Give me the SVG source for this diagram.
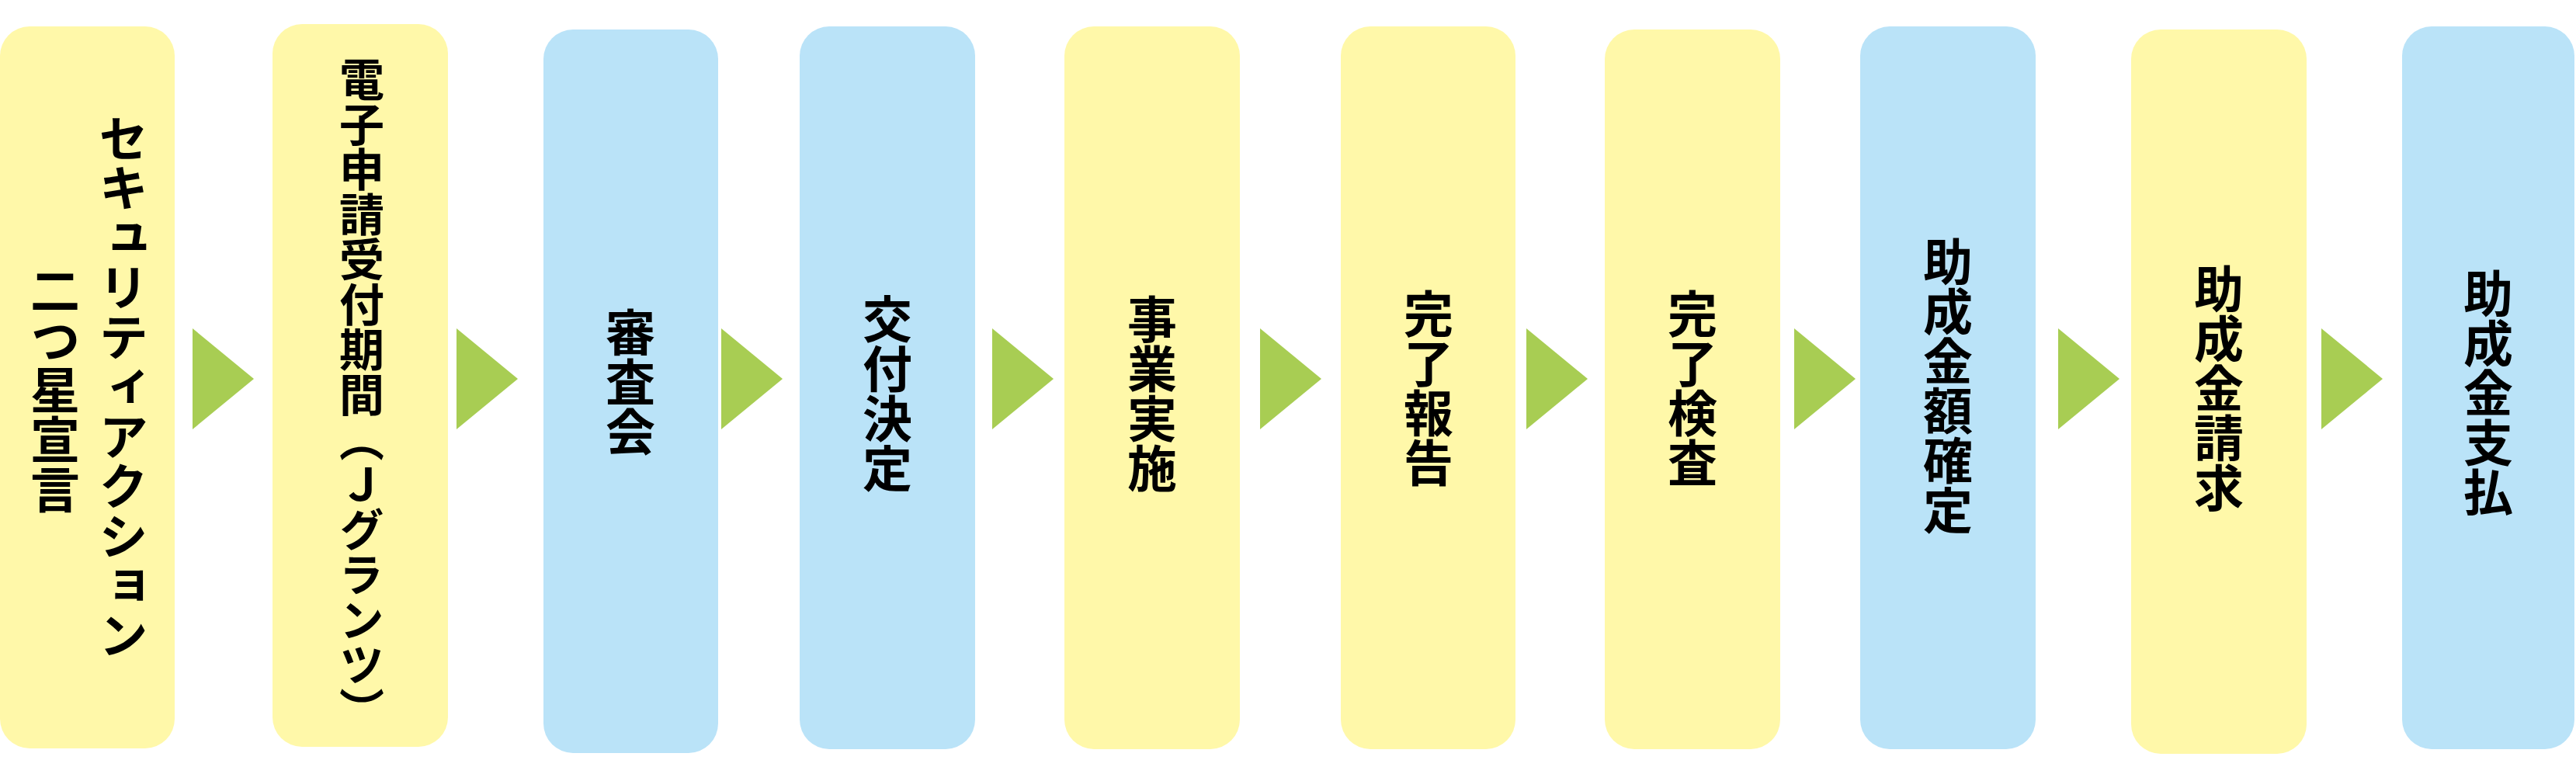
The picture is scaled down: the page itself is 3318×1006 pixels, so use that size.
<svg xmlns="http://www.w3.org/2000/svg" width="3318" height="1006" viewBox="0 0 3318 1006">
<style>
.y{fill:#FFF8A9}.b{fill:#BAE3F8}.a{fill:#A8CD53}
text{font-family:"Noto Sans CJK JP",sans-serif;font-size:64px;fill:#000;writing-mode:vertical-rl;text-anchor:middle;font-weight:bold}
.s{font-size:58px}
</style>
<rect width="3318" height="1006" fill="#fff"/>
<g id="connectors">
<polygon class="a" points="248,423 327,488 248,553"/>
<polygon class="a" points="588,423 667,488 588,553"/>
<polygon class="a" points="929,423 1008,488 929,553"/>
<polygon class="a" points="1278,423 1357,488 1278,553"/>
<polygon class="a" points="1623,423 1702,488 1623,553"/>
<polygon class="a" points="1966,423 2045,488 1966,553"/>
<polygon class="a" points="2311,423 2390,488 2311,553"/>
<polygon class="a" points="2651,423 2730,488 2651,553"/>
<polygon class="a" points="2990,423 3069,488 2990,553"/>
</g>
<g id="n1"><rect class="y" x="0" y="34" width="225" height="930" rx="38"/><text x="159" y="498">セキュリティアクション</text><text x="71" y="502">二つ星宣言</text></g>
<g id="n2"><rect class="y" x="351" y="31" width="226" height="931" rx="38"/><text class="s" x="466" y="508">電子申請受付期間（Ｊグランツ）</text></g>
<g id="n3"><rect class="b" x="700" y="38" width="225" height="932" rx="38"/><text x="812" y="492">審査会</text></g>
<g id="n4"><rect class="b" x="1030" y="34" width="226" height="931" rx="38"/><text x="1143" y="507">交付決定</text></g>
<g id="n5"><rect class="y" x="1371" y="34" width="226" height="931" rx="38"/><text x="1484" y="507">事業実施</text></g>
<g id="n6"><rect class="y" x="1727" y="34" width="225" height="931" rx="38"/><text x="1840" y="500">完了報告</text></g>
<g id="n7"><rect class="y" x="2067" y="38" width="226" height="927" rx="38"/><text x="2180" y="500">完了検査</text></g>
<g id="n8"><rect class="b" x="2396" y="34" width="226" height="931" rx="38"/><text x="2509" y="497">助成金額確定</text></g>
<g id="n9"><rect class="y" x="2745" y="38" width="226" height="933" rx="38"/><text x="2858" y="500">助成金請求</text></g>
<g id="n10"><rect class="b" x="3094" y="34" width="222" height="931" rx="38"/><text x="3205" y="506">助成金支払</text></g>
</svg>
